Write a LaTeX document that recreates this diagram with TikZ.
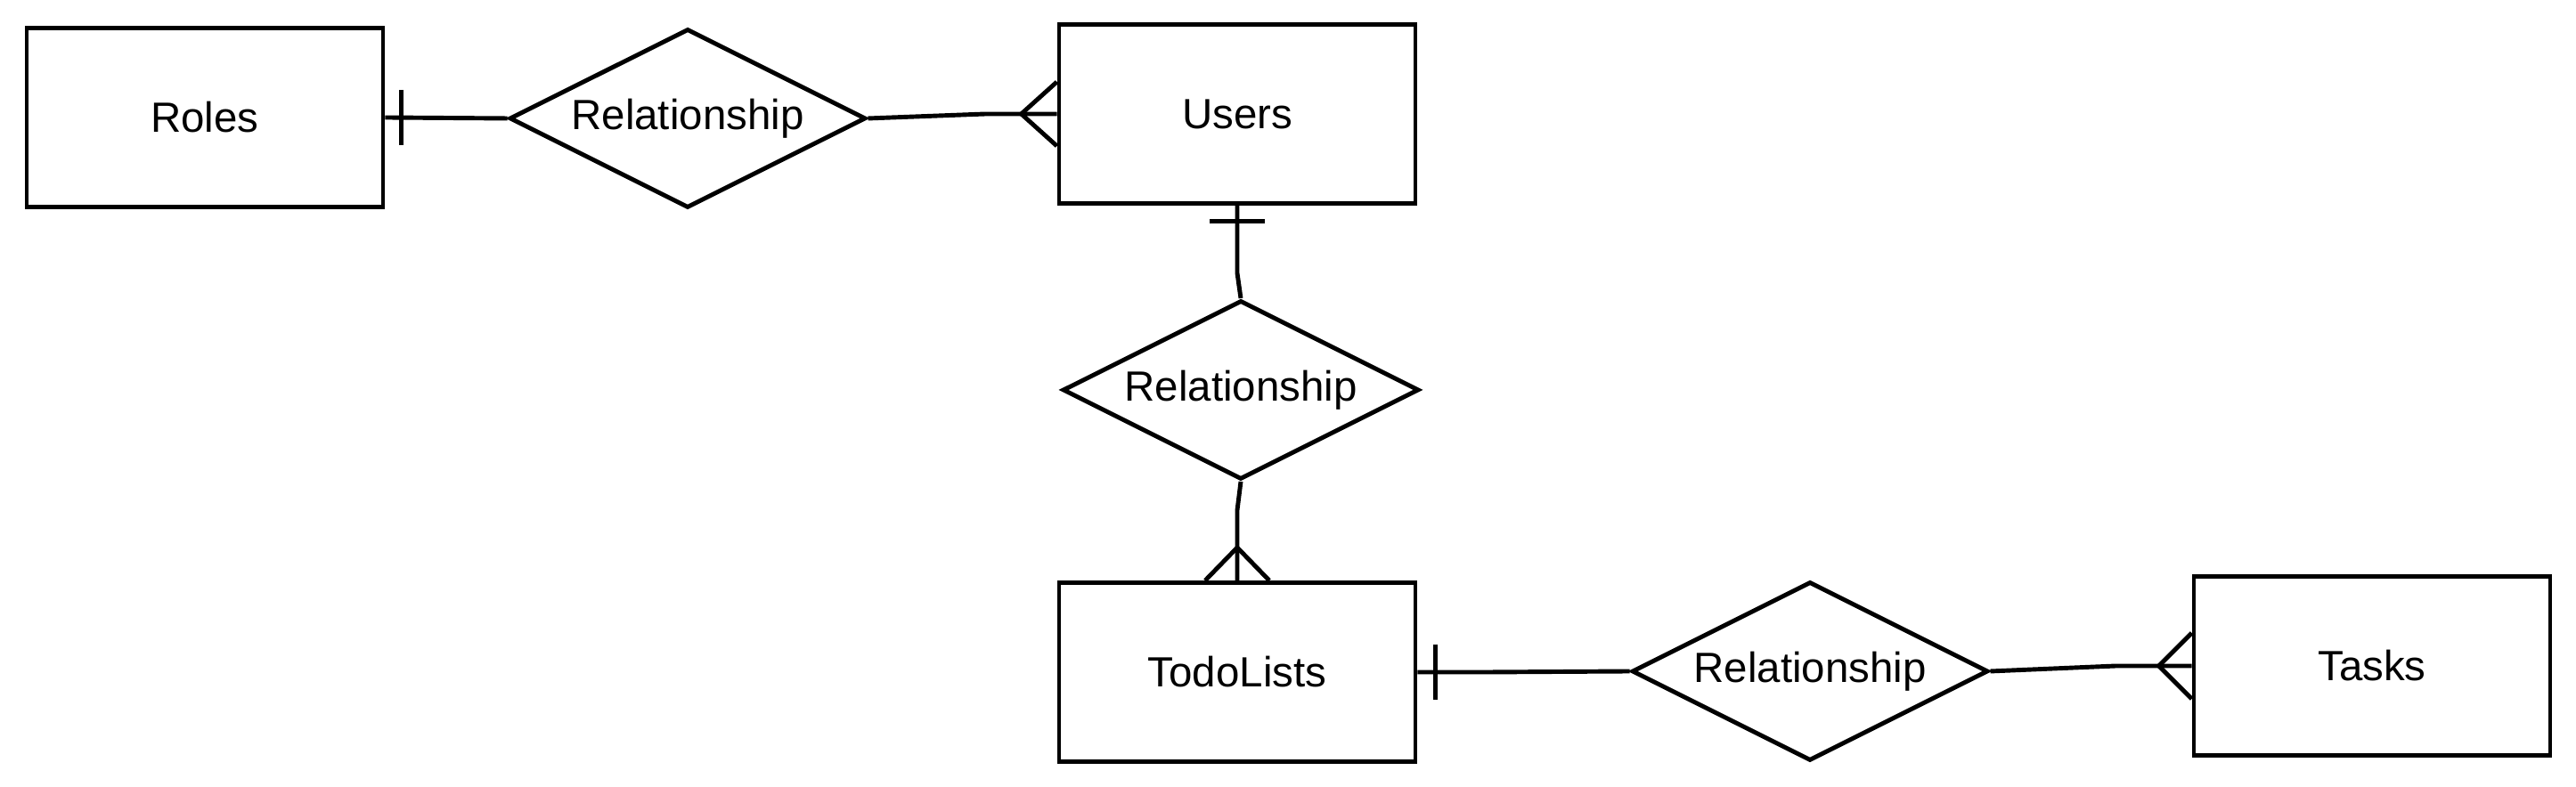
\documentclass[tikz,border=0pt]{standalone}
\usepackage{fontspec}
\setmainfont{Liberation Sans}
\usepackage{tikz}
\usetikzlibrary{shapes.geometric}

\begin{document}
\begin{tikzpicture}[line width=1.4pt,
    entity/.style={draw, rectangle, minimum width=4cm, minimum height=2.01cm, inner sep=0pt, font=\fontsize{13.5}{16}\selectfont},
    relation/.style={draw, diamond, aspect=2, minimum width=4cm, minimum height=2.01cm, inner sep=0pt, font=\fontsize{13.5}{16}\selectfont}]
                \useasboundingbox (0,0) rectangle (28.92,8.84);

                % Entities
                \node[entity] (roles) at (2.30,7.52) {Roles};
                \node[entity] (users) at (13.89,7.56) {Users};
                \node[entity] (todo) at (13.89,1.29) {TodoLists};
                \node[entity] (tasks) at (26.63,1.36) {Tasks};

                % Relationships
                \node[relation] (relroles) at (7.72,7.51) {Relationship};
                \node[relation] (relusers) at (13.93,4.46) {Relationship};
                \node[relation] (reltodo) at (20.32,1.30) {Relationship};

                % Roles - Users
                \draw (roles.east) -- (relroles.west);
                \draw ([xshift=1.8mm,yshift=3.1mm]roles.east) -- ([xshift=1.8mm,yshift=-3.1mm]roles.east);
                \draw (relroles.east) -- ([xshift=-8mm]users.west) -- (users.west);
                \draw ([yshift=3.6mm]users.west) -- ([xshift=-4mm]users.west) -- ([yshift=-3.6mm]users.west);

                % Users - TodoLists
                \draw (users.south) -- ([yshift=-7.6mm]users.south) -- (relusers.north);
                \draw ([xshift=-3.1mm,yshift=-1.8mm]users.south) -- ([xshift=3.1mm,yshift=-1.8mm]users.south);
                \draw (relusers.south) -- ([yshift=7.9mm]todo.north) -- (todo.north);
                \draw ([xshift=-3.6mm]todo.north) -- ([yshift=3.7mm]todo.north) -- ([xshift=3.6mm]todo.north);

                % TodoLists - Tasks
                \draw (todo.east) -- ([xshift=8mm]todo.east) -- (reltodo.west);
                \draw ([xshift=2mm,yshift=3.1mm]todo.east) -- ([xshift=2mm,yshift=-3.1mm]todo.east);
                \draw (reltodo.east) -- ([xshift=-8.5mm]tasks.west) -- (tasks.west);
                \draw ([yshift=3.7mm]tasks.west) -- ([xshift=-3.7mm]tasks.west) -- ([yshift=-3.7mm]tasks.west);
\end{tikzpicture}
\end{document}
